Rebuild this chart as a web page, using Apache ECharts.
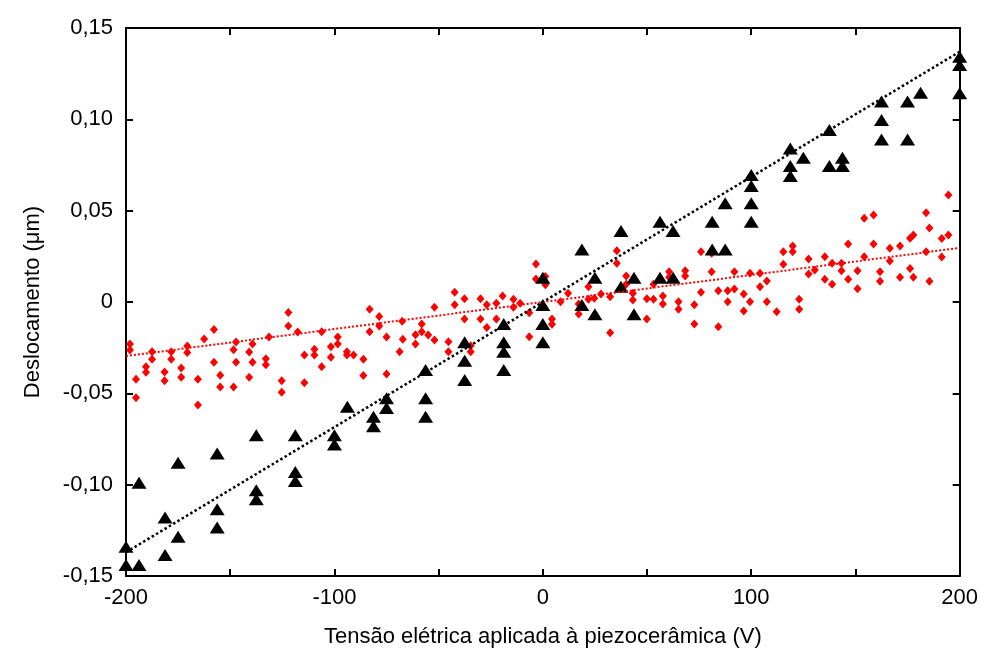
<!DOCTYPE html>
<html>
<head>
<meta charset="utf-8">
<script src="https://cdn.jsdelivr.net/npm/echarts@6/dist/echarts.min.js"></script>
<style>html,body{margin:0;padding:0;background:#fff}#c{width:981px;height:655px}</style>
</head>
<body>
<div id="c"></div>
<script>
// Black triangles: [voltage (V), displacement (µm)]
const triangles = [
  [-200,-0.134],[-200,-0.144],[-193.75,-0.099],[-193.75,-0.144],
  [-181.25,-0.118],[-181.25,-0.1385],[-175,-0.088],[-175,-0.1285],
  [-156.25,-0.083],[-156.25,-0.1135],[-156.25,-0.1235],
  [-137.5,-0.073],[-137.5,-0.103],[-137.5,-0.108],
  [-118.75,-0.073],[-118.75,-0.093],[-118.75,-0.098],
  [-100,-0.073],[-100,-0.078],[-93.75,-0.0573],
  [-81.25,-0.0628],[-81.25,-0.068],[-75,-0.0527],[-75,-0.058],
  [-56.25,-0.0372],[-56.25,-0.0527],[-56.25,-0.0628],
  [-37.5,-0.0221],[-37.5,-0.0321],[-37.5,-0.0427],
  [-18.75,-0.012],[-18.75,-0.0221],[-18.75,-0.0272],[-18.75,-0.0372],
  [0,0.0133],[0,-0.0016],[0,-0.012],[0,-0.0221],
  [18.75,0.0288],[18.75,-0.0016],[25,0.0133],[25,-0.0067],
  [37.5,0.0389],[37.5,0.0084],[43.75,0.0133],[43.75,-0.0067],
  [56.25,0.044],[56.25,0.0133],[62.5,0.0389],[62.5,0.0133],
  [81.25,0.044],[81.25,0.0288],[87.5,0.054],[87.5,0.0288],
  [100,0.0695],[100,0.0635],[100,0.054],[100,0.044],
  [118.75,0.0841],[118.75,0.0745],[118.75,0.069],[125,0.079],
  [137.5,0.0942],[137.5,0.0745],[143.75,0.079],[143.75,0.0745],
  [162.5,0.1097],[162.5,0.0996],[162.5,0.089],
  [175,0.1097],[175,0.089],[181.25,0.1146],
  [200,0.1343],[200,0.1297],[200,0.1143]
];
// Red diamonds: [voltage (V), displacement (µm)]
const diamonds = [
  [-198.1,-0.0230],[-198.1,-0.0263],[-195.2,-0.0423],[-195.2,-0.0524],
  [-190.4,-0.0354],[-190.4,-0.0385],[-187.5,-0.0272],[-187.5,-0.0314],
  [-181.5,-0.0383],[-181.5,-0.0431],[-178.3,-0.0272],[-178.3,-0.0314],
  [-173.5,-0.0361],[-173.5,-0.0412],[-170.6,-0.0241],[-170.6,-0.0277],
  [-165.5,-0.0423],[-165.5,-0.0564],[-162.5,-0.0203],[-157.8,-0.0150],
  [-157.8,-0.0330],[-154.8,-0.0401],[-154.8,-0.0465],[-148.4,-0.0261],
  [-148.4,-0.0465],[-147.2,-0.0219],[-147.2,-0.0330],[-140.9,-0.0274],
  [-140.9,-0.0412],[-139.3,-0.0230],[-139.3,-0.0330],[-132.9,-0.0310],
  [-132.9,-0.0343],[-131.4,-0.0192],
  [-125.3,-0.0431],[-125.3,-0.0494],[-122.1,-0.0057],[-122.1,-0.0131],
  [-117.6,-0.0164],[-114.4,-0.0290],[-114.4,-0.0442],[-109.6,-0.0259],
  [-109.6,-0.0290],[-106.1,-0.0163],[-106.1,-0.0354],[-101.7,-0.0245],
  [-101.7,-0.0303],[-98.4,-0.0192],[-98.4,-0.0230],[-94,-0.0272],
  [-94,-0.0290],[-90.8,-0.0290],[-86.1,-0.0314],[-86.1,-0.0403],
  [-83.1,-0.0040],[-83.1,-0.0163],[-78.5,-0.0080],[-78.5,-0.0131],
  [-75,-0.0192],[-75,-0.0394],[-68.7,-0.0272],[-67.5,-0.0106],
  [-67.2,-0.0204],[-61.1,-0.0179],[-61.1,-0.0230],
  [-58.1,-0.0120],[-58.1,-0.0163],[-55,-0.0181],[-52,-0.0029],
  [-52,-0.0208],[-45.3,-0.0217],[-45.3,-0.0272],[-42.3,0.0053],
  [-42.3,-0.0015],[-37.6,0.0018],[-37.6,-0.0093],[-34.6,-0.0239],
  [-34.6,-0.0272],[-29.9,0.0018],[-29.9,-0.0093],[-26.9,-0.0015],
  [-26.9,-0.0139],[-22.3,-0.0007],[-22.3,-0.0093],[-19.3,0.0033],
  [-14.1,0.0015],[-14.1,-0.0029],[-10.9,-0.0007],[-6.5,-0.0059],
  [-6.5,-0.0190],[-3.3,0.0208],[-3.3,0.0126],[1.2,0.0139],[1.2,0.0095],
  [4.4,-0.0093],[4.4,-0.0122],[8.5,0.0002],
  [12.1,0.0048],[17.2,-0.0011],[17.2,-0.0066],[21.9,0.0084],[21.9,0.0015],
  [24.7,0.0020],[27.9,0.0044],[32.3,0.0029],[32.3,-0.0168],[35.5,0.0281],
  [35.5,0.0212],[40,0.0142],[40,0.0097],[43.2,0.0048],[43.2,0.0011],
  [49.9,0.0018],[49.9,-0.0093],[53.1,0.0097],[53.1,0.0015],[57.6,0.0033],
  [57.6,-0.0011],[60.6,0.0166],[60.6,0.0135],[65.1,0.0002],[65.1,-0.0040],
  [68.3,0.0171],[68.3,0.0142],[72.7,-0.0015],[72.7,-0.0120],[75.9,0.0275],
  [75.9,0.0053],
  [81,0.0267],[81,0.0166],[84.2,0.0062],[84.2,-0.0135],[88.7,0.0062],
  [88.7,0.0002],[91.9,0.0166],[91.9,0.0071],[96.4,0.0044],[96.4,-0.0049],
  [99.4,0.0157],[99.4,0.0002],[104.2,0.0157],[104.2,0.0084],[107.5,0.0115],
  [107.5,0.0002],[112.2,-0.0053],[115.4,0.0275],[115.4,0.0206],[119.9,0.0307],
  [119.9,0.0275],[123,0.0015],[123,-0.0040],[127.5,0.0235],[127.5,0.0153],
  [130.5,0.0175],[135.3,0.0248],[135.3,0.0124],[138.8,0.0212],[138.8,0.0097],
  [143.3,0.0212],[143.3,0.0171],[146.5,0.0318],[146.5,0.0124],
  [151,0.0171],[151,0.0073],[154.2,0.0458],[154.2,0.0248],[158.7,0.0476],
  [158.7,0.0318],[161.8,0.0166],[161.8,0.0113],[166.5,0.0294],[166.5,0.0224],
  [171.4,0.0307],[171.4,0.0135],[176.2,0.0184],[176.2,0.0349],[177.8,0.0367],
  [177.8,0.0135],[183.9,0.0489],[183.9,0.0275],[185.5,0.0405],[185.5,0.0113],
  [191.4,0.0347],[191.4,0.0246],[194.6,0.0586],[194.6,0.0367]
];
// Linear fits (endpoints)
const fitBlack = [[-200,-0.137],[200,0.137]];
const fitRed = [[-200,-0.0296],[200,0.0296]];
const xTicks = [-200,-100,0,100,200];
const yTickLabels = {'0.15':'0,15','0.1':'0,10','0.05':'0,05','0':'0','-0.05':'-0,05','-0.1':'-0,10','-0.15':'-0,15'};

const font = 'Liberation Sans, Arial, sans-serif';
const chart = echarts.init(document.getElementById('c'));
const axisLine = {show:true, onZero:false, lineStyle:{color:'#000', width:2}};
const tick = {show:true, inside:true, length:7, lineStyle:{color:'#000', width:2}};
chart.setOption({
  animation:false,
  backgroundColor:'#fff',
  grid:{left:126, right:20, top:28, bottom:79},
  xAxis:[{
    type:'value', min:-200, max:200, interval:50, position:'bottom',
    axisLine, axisTick:tick, splitLine:{show:false},
    axisLabel:{color:'#000', fontFamily:font, fontSize:22, margin:11,
      formatter:v => xTicks.includes(v) ? String(v) : ''},
    name:'Tensão elétrica aplicada à piezocerâmica (V)', nameLocation:'middle', nameGap:50,
    nameTextStyle:{color:'#000', fontFamily:font, fontSize:22}
  },{
    type:'value', min:-200, max:200, interval:50, position:'top',
    axisLine, axisTick:tick, axisLabel:{show:false}, splitLine:{show:false}
  }],
  yAxis:[{
    type:'value', min:-0.15, max:0.15, interval:0.05, position:'left',
    axisLine, axisTick:tick, splitLine:{show:false},
    axisLabel:{color:'#000', fontFamily:font, fontSize:22, margin:13,
      formatter:v => yTickLabels[String(+v.toFixed(2))] ?? ''},
    name:'Deslocamento (μm)', nameLocation:'middle', nameGap:82, nameRotate:90,
    nameTextStyle:{color:'#000', fontFamily:font, fontSize:22}
  },{
    type:'value', min:-0.15, max:0.15, interval:0.05, position:'right',
    axisLine, axisTick:tick, axisLabel:{show:false}, splitLine:{show:false}
  }],
  series:[
    {type:'scatter', data:diamonds, symbol:'diamond', symbolSize:[8,9],
     itemStyle:{color:'#ff0000', opacity:1}, z:2},
    {type:'scatter', data:triangles, symbol:'triangle', symbolSize:[15,12],
     itemStyle:{color:'#000', opacity:1}, z:3},
    {type:'line', data:fitRed, symbol:'none', lineStyle:{color:'#ff0000', width:2, type:'dotted'}, z:4},
    {type:'line', data:fitBlack, symbol:'none', lineStyle:{color:'#000', width:2.5, type:'dotted'}, z:4}
  ]
});
</script>
</body>
</html>
